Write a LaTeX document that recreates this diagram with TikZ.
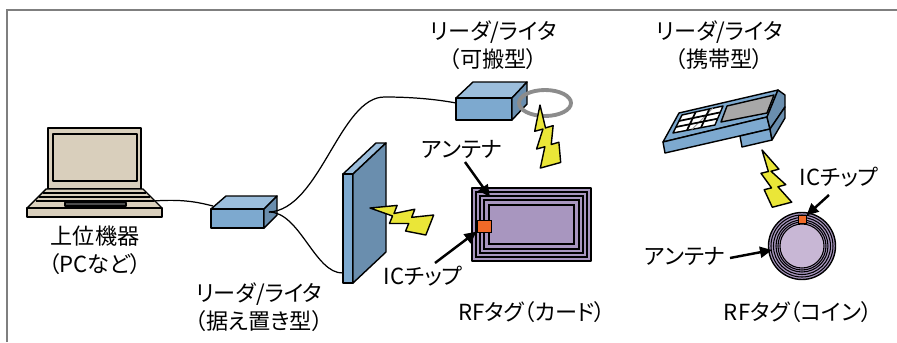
\documentclass[tikz,border=0pt]{standalone}
\usepackage{fontspec}
\setmainfont{Noto Sans CJK JP}[RawFeature=+palt]
\usetikzlibrary{arrows.meta,calc}

\definecolor{boxtop}{HTML}{9CBEDC}
\definecolor{boxfront}{HTML}{7DA9CF}
\definecolor{boxside}{HTML}{6A8EAE}
\definecolor{pcbody}{HTML}{D9CFBC}
\definecolor{bolty}{HTML}{EAE638}
\definecolor{tagpurple}{HTML}{A896BF}
\definecolor{coinface}{HTML}{C8B7D5}
\definecolor{chiporange}{HTML}{F06A28}
\definecolor{ringgray}{HTML}{8C8C8C}
\definecolor{lcdgray}{HTML}{A8A8A8}
\definecolor{framegray}{HTML}{7F7F7F}

\tikzset{
  part/.style={draw=black, line width=0.8pt, line join=round},
  coil/.style={draw=black, line width=0.6pt},
  chip/.style={draw=black, line width=0.5pt, fill=chiporange, inner sep=0pt},
  pointer/.style={draw=black, line width=1.4pt, -{Triangle[length=2.4mm,width=2.2mm]}},
  cable/.style={draw=black, line width=0.7pt},
  lbl/.style={align=center, font=\fontsize{12.6}{15.8}\selectfont},
  bolt/.pic={
    \filldraw [part, fill=bolty] (0,0) -- (0.42,0.07) -- (0.38,-0.06) -- (0.70,0.03)
      -- (0.66,-0.10) -- (1,-0.04) -- (0.90,-0.36) -- (0.58,-0.32) -- (0.62,-0.20)
      -- (0.32,-0.22) -- (0.36,-0.10) -- cycle;
  }
}

\begin{document}
\begin{tikzpicture}[scale=0.2]
\tikzstyle{every node}+=[inner sep=0pt]
\useasboundingbox (0,0) rectangle (89.7,-34.2);
\draw [framegray, line width=1.1pt] (0.7,-34.2) -- (0.7,-1.0) -- (89.7,-1.0);

% laptop
\filldraw [part, fill=pcbody] (4.8,-12.8) rectangle (14.1,-18.9);
\filldraw [part, fill=pcbody] (5.3,-13.4) rectangle (13.7,-18.1);
\filldraw [part, fill=pcbody] (4.6,-18.9) -- (14.3,-18.9) -- (16.2,-20.8) -- (2.7,-20.8) -- cycle;
\filldraw [part, fill=pcbody] (2.7,-20.8) rectangle (16.2,-21.7);
\foreach \y/\l/\r in {19.3/4.3/14.6, 19.7/3.9/15.0, 20.1/3.6/15.4}
  \draw [black, line width=0.9pt] (\l,-\y) -- (\r,-\y);
\filldraw [part, fill=black!70] (6.5,-20.25) rectangle (12.6,-20.6);
\coordinate (pcport) at (15.3,-20.1);

% reader/writer, fixed type
\filldraw [part, fill=boxtop] (21.1,-20.9) -- (22.6,-19.6) -- (27.7,-19.6) -- (26.4,-20.9) -- cycle;
\filldraw [part, fill=boxfront] (21.1,-20.9) rectangle (26.4,-22.8);
\filldraw [part, fill=boxside] (26.4,-20.9) -- (27.7,-19.6) -- (27.7,-21.5) -- (26.4,-22.8) -- cycle;
\coordinate (fixin) at (21.3,-20.6);
\coordinate (fixout) at (26.9,-21.2);

% panel antenna
\filldraw [part, fill=boxtop] (34.3,-17.4) -- (37.6,-14.3) -- (38.6,-14.3) -- (35.3,-17.4) -- cycle;
\filldraw [part, fill=boxfront] (34.3,-17.4) rectangle (35.3,-28.3);
\filldraw [part, fill=boxside] (35.3,-17.4) -- (38.6,-14.3) -- (38.6,-25.2) -- (35.3,-28.3) -- cycle;
\coordinate (panelin) at (34.3,-27.3);

% reader/writer, portable type
\filldraw [part, fill=boxtop] (45.6,-9.8) -- (47.3,-8.2) -- (52.7,-8.2) -- (51.2,-9.8) -- cycle;
\filldraw [part, fill=boxfront] (45.6,-9.8) rectangle (51.2,-12.0);
\filldraw [part, fill=boxside] (51.2,-9.8) -- (52.7,-8.2) -- (52.7,-10.4) -- (51.2,-12.0) -- cycle;
\draw [ringgray, line width=2.2pt] (54.5,-10.3) ellipse (2.6 and 1.3);
\coordinate (portin) at (45.6,-10.3);

% cables
\draw [cable] (pcport) .. controls +(3,0.2) and +(-1.6,0.4) .. (fixin);
\draw [cable] (fixout) .. controls (32,-21.0) and (34,-9.6) .. (38.5,-9.7)
  .. controls (41,-9.7) and (43.5,-9.9) .. (portin);
\draw [cable] (fixout) .. controls (30,-21.2) and (31.5,-27.4) .. (panelin);

% handheld reader/writer
\filldraw [part, fill=boxfront] (66.3,-14.2) -- (67.9,-11.3) -- (77.8,-9.0) -- (76.7,-11.7) -- cycle;
\filldraw [part, fill=boxfront] (66.3,-14.2) -- (76.7,-11.7) -- (77.0,-12.9) -- (66.5,-15.3) -- cycle;
\filldraw [part, fill=boxside] (76.7,-11.7) -- (77.8,-9.0) -- (78.5,-9.5) -- (78.5,-10.7) -- (77.0,-12.9) -- cycle;
\filldraw [part, fill=boxfront] (74.0,-13.6) -- (77.0,-12.9) -- (77.2,-14.0) -- (74.2,-14.7) -- cycle;
\filldraw [part, fill=boxside] (77.0,-12.9) -- (78.5,-10.7) -- (78.5,-11.8) -- (77.2,-14.0) -- cycle;
\filldraw [part, fill=lcdgray] (72.1,-12.2) -- (72.7,-10.6) -- (77.4,-9.5) -- (76.7,-11.3) -- cycle;
\coordinate (kbl) at (67.3,-13.3);
\coordinate (kbr) at (71.5,-12.5);
\coordinate (ktl) at (68.2,-11.5);
\coordinate (ktr) at (72.3,-10.6);
\filldraw [part, fill=white] (kbl) -- (kbr) -- (ktr) -- (ktl) -- cycle;
\draw [black!40, line width=0.5pt] ($(kbl)!0.45!(kbr)$) -- ($(ktl)!0.75!(ktr)$);
\foreach \i in {1,2} {
  \draw [black, line width=1pt] ($(kbl)!\i/3!(kbr)$) -- ($(ktl)!\i/3!(ktr)$);
  \draw [black, line width=1pt] ($(kbl)!\i/3!(ktl)$) -- ($(kbr)!\i/3!(ktr)$);
}

% RF tag, card
\filldraw [part, fill=tagpurple] (47.2,-18.8) rectangle (59.1,-26.1);
\foreach \i in {0.4,0.8,1.2,1.7}
  \draw [coil] (47.2+\i,-18.8-\i) rectangle (59.1-\i,-26.1+\i);
\node [chip, minimum width=0.28cm, minimum height=0.24cm] (cardchip) at (48.4,-22.6) {};
\coordinate (cardcoil) at (49.0,-19.7);

% RF tag, coin
\coordinate (coinc) at (80.2,-24.6);
\filldraw [part, fill=tagpurple] (coinc) circle (3.35);
\foreach \r in {3.1,2.85,2.6,2.4}
  \draw [coil] (coinc) circle (\r);
\filldraw [coil, fill=coinface] (coinc) circle (2.2);
\node [chip, minimum width=0.16cm, minimum height=0.15cm] (coinchip) at (80.2,-21.95) {};
\coordinate (coincoil) at (77.2,-25.0);

% radio waves (pics ignore the picture scale, so lengths are in cm)
\pic [rotate=-4, scale=1.28] at (37.0,-20.8) {bolt};
\pic [rotate=-92, yscale=-1, scale=1.26] at (54.0,-10.5) {bolt};
\pic [rotate=-58, scale=1.2] at (76.2,-15.0) {bolt};

% labels
\node [lbl] (pclbl) at (9.5,-25.05) {上位機器\\（PCなど）};
\node [lbl] (fixlbl) at (25.9,-30.7) {リーダ/ライタ\\（据え置き型）};
\node [lbl] (portlbl) at (49.35,-4.5) {リーダ/ライタ\\（可搬型）};
\node [lbl] (handlbl) at (71.95,-4.5) {リーダ/ライタ\\（携帯型）};
\node [lbl] (cardant) at (46.2,-14.9) {アンテナ};
\node [lbl] (cardic) at (42.3,-27.6) {ICチップ};
\node [lbl] (cardlbl) at (53.2,-31.2) {RFタグ（カード）};
\node [lbl] (coinic) at (83.9,-17.7) {ICチップ};
\node [lbl] (coinant) at (68.5,-25.6) {アンテナ};
\node [lbl] (coinlbl) at (79.8,-31.2) {RFタグ（コイン）};

% pointers
\coordinate (cardantfrom) at (46.5,-16.2);
\coordinate (cardicfrom) at (43.5,-26.3);
\coordinate (coinicfrom) at (82.9,-19.5);
\coordinate (coinantfrom) at (73.0,-25.8);
\draw [pointer] (cardantfrom) -- (cardcoil);
\draw [pointer] (cardicfrom) -- (cardchip);
\draw [pointer] (coinicfrom) -- (coinchip);
\draw [pointer] (coinantfrom) -- (coincoil);
\end{tikzpicture}
\end{document}
